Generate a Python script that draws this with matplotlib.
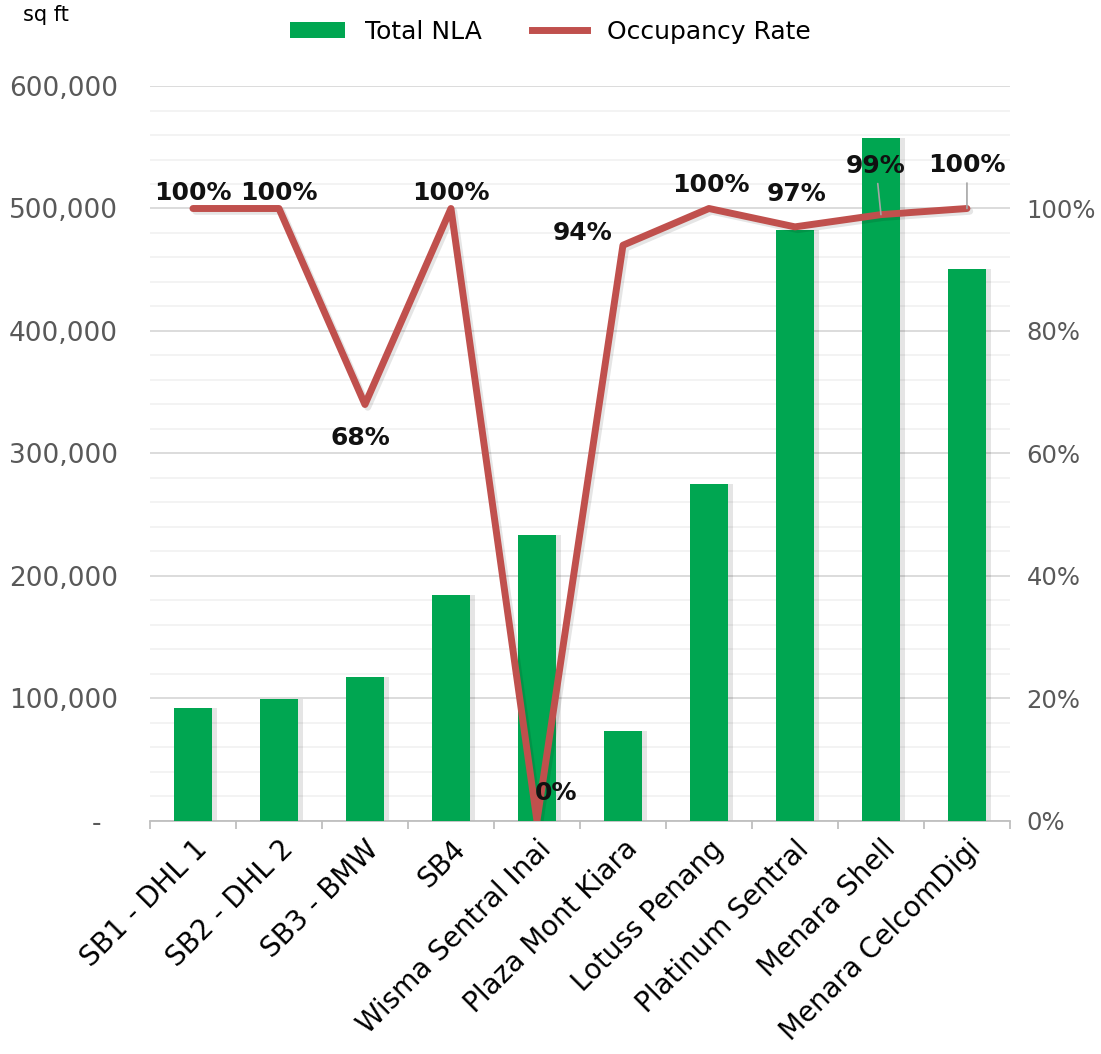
"""Total NLA and occupancy rate by property."""

import matplotlib

matplotlib.use("Agg")
import matplotlib.pyplot as plt
from matplotlib.lines import Line2D
from matplotlib.patches import Patch
from matplotlib.ticker import FuncFormatter, MultipleLocator
from matplotlib.transforms import ScaledTranslation


PROPERTIES = [
    "SB1 - DHL 1",
    "SB2 - DHL 2",
    "SB3 - BMW",
    "SB4",
    "Wisma Sentral Inai",
    "Plaza Mont Kiara",
    "Lotuss Penang",
    "Platinum Sentral",
    "Menara Shell",
    "Menara CelcomDigi",
]
TOTAL_NLA = [92000, 99600, 117600, 184500, 233500, 73500, 275100, 482400, 557600, 450600]
OCCUPANCY = [100, 100, 68, 100, 0, 94, 100, 97, 99, 100]

GREEN = "#00A651"
RED = "#C0504D"
GREY_TEXT = "#595959"

# label centre offsets in points (dx, dy) and whether a leader line is drawn
LABEL_OFFSETS = [(0, 11), (0, 11), (-3, -24), (0, 11), (14, 20), (-29, 9), (1.5, 17), (1.5, 24), (-3.6, 35), (0, 31)]
LEADERS = [False] * 8 + [True, True]

plt.rcParams["font.family"] = ["DejaVu Sans"]

fig = plt.figure(figsize=(11.01, 10.54), dpi=100)
ax = fig.add_axes([0.1362, 0.2211, 0.7811, 0.6973])
x = list(range(len(PROPERTIES)))

# soft drop shadow behind the bars
ax.bar([i + 0.06 for i in x], TOTAL_NLA, width=0.45, color="#000000", alpha=0.10, zorder=2)
ax.bar(x, TOTAL_NLA, width=0.45, color=GREEN, zorder=3)

ax.set_xlim(-0.5, len(PROPERTIES) - 0.5)
ax.set_ylim(0, 600000)
ax.yaxis.set_major_locator(MultipleLocator(100000))
ax.yaxis.set_minor_locator(MultipleLocator(20000))
ax.yaxis.set_major_formatter(FuncFormatter(lambda v, _: "-  " if v == 0 else f"{v:,.0f}"))
ax.grid(axis="y", which="major", color="#d9d9d9", linewidth=1.3, zorder=0)
ax.grid(axis="y", which="minor", color="#f2f2f2", linewidth=1.3, zorder=0)
ax.set_axisbelow(True)
ax.tick_params(axis="y", which="both", length=0, labelsize=19, labelcolor=GREY_TEXT, pad=23)

ax.set_xticks(x)
ax.set_xticklabels(PROPERTIES, rotation=45, ha="right", rotation_mode="anchor", fontsize=20)
ax.tick_params(axis="x", which="major", length=0, pad=10)
ax.set_xticks([i - 0.5 for i in range(len(PROPERTIES) + 1)], minor=True)
ax.tick_params(axis="x", which="minor", length=6, color="#bfbfbf", width=1.3)

for side in ("top", "right", "left"):
    ax.spines[side].set_visible(False)
ax.spines["bottom"].set_color("#bfbfbf")
ax.spines["bottom"].set_linewidth(1.3)

ax2 = ax.twinx()
ax2.set_ylim(0, 120)
ax2.set_yticks(range(0, 101, 20))
ax2.yaxis.set_major_formatter(FuncFormatter(lambda v, _: f"{v:.0f}%"))
ax2.tick_params(axis="y", length=0, labelsize=17.5, labelcolor=GREY_TEXT, pad=12)
for side in ("top", "right", "left", "bottom"):
    ax2.spines[side].set_visible(False)

shadow = ax2.transData + ScaledTranslation(2 / 72, -2 / 72, fig.dpi_scale_trans)
ax2.plot(x, OCCUPANCY, color="#000000", alpha=0.10, linewidth=5,
         solid_capstyle="round", solid_joinstyle="round", zorder=3, transform=shadow)
ax2.plot(x, OCCUPANCY, color=RED, linewidth=5, solid_capstyle="round",
         solid_joinstyle="round", zorder=4)

for i, value in enumerate(OCCUPANCY):
    dx, dy = LABEL_OFFSETS[i]
    ax2.annotate(
        f"{value}%",
        (i, value),
        xytext=(dx, dy),
        textcoords="offset points",
        ha="center",
        va="center",
        fontsize=18,
        fontweight="bold",
        color="#111111",
        zorder=5,
        arrowprops=dict(arrowstyle="-", color="#a6a6a6", lw=1.2, shrinkA=2, shrinkB=0) if LEADERS[i] else None,
    )

fig.text(0.042, 0.986, "sq ft", fontsize=15, ha="center", va="center")

handles = [
    Patch(facecolor=GREEN, label="Total NLA"),
    Line2D([0], [0], color=RED, linewidth=5, label="Occupancy Rate"),
]
fig.legend(handles=handles, loc="center", bbox_to_anchor=(0.5, 0.97), ncol=2,
           frameon=False, fontsize=18, handlelength=2.2, handleheight=0.6, columnspacing=2.0)

fig.savefig("out.png", dpi=100, facecolor="white")
